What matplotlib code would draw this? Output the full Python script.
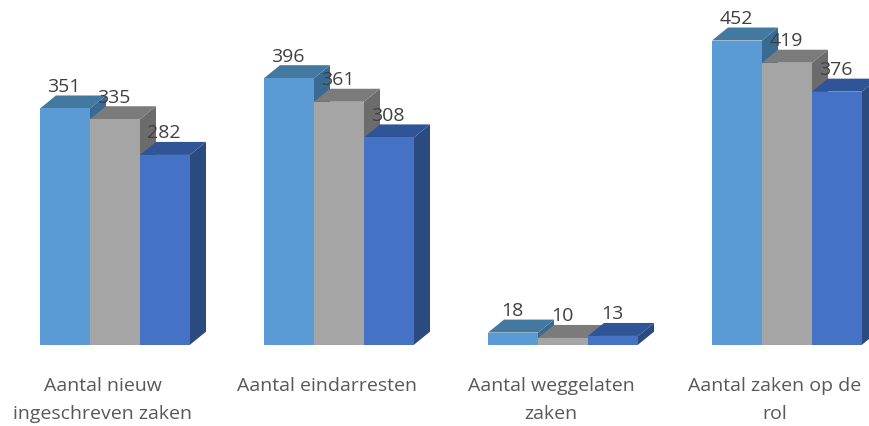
import matplotlib
matplotlib.use('Agg')
import matplotlib.pyplot as plt
from matplotlib.patches import Polygon

categories = ["Aantal nieuw\ningeschreven zaken", "Aantal eindarresten",
              "Aantal weggelaten\nzaken", "Aantal zaken op de\nrol"]
series_a = [351, 396, 18, 452]
series_b = [335, 361, 10, 419]
series_c = [282, 308, 13, 376]

front_colors = ["#5B9BD5", "#A5A5A5", "#4472C4"]
top_colors = ["#44799F", "#7B7B7B", "#2F5597"]
side_colors = ["#386A94", "#6C6C6C", "#2B4A80"]

W, H = 870, 427
px_x = 224.0       # pixels per group
px_y = 0.673       # pixels per value unit
x0 = 115.0         # pixel of first group centre
base = 345.7       # pixel of baseline

bar_w = 50 / px_x
dx = 16 / px_x
dy = 13 / px_y

# the category labels sit a little left of their groups in the original
label_shift = -12

plt.rcParams['font.family'] = ['Open Sans', 'DejaVu Sans']

fig = plt.figure(figsize=(W / 100, H / 100), dpi=100)
ax = fig.add_axes([0, 0, 1, 1])
ax.set_xlim(-x0 / px_x, (W - x0) / px_x)
ax.set_ylim(-(H - base) / px_y, base / px_y)
ax.axis('off')

all_series = [series_a, series_b, series_c]
for g in range(len(categories)):
    for s, values in enumerate(all_series):
        v = values[g]
        l = g + (s - 1.5) * bar_w
        r = l + bar_w
        side = [(r, 0), (r + dx, dy), (r + dx, v + dy), (r, v)]
        top = [(l, v), (l + dx, v + dy), (r + dx, v + dy), (r, v)]
        front = [(l, 0), (r, 0), (r, v), (l, v)]
        ax.add_patch(Polygon(side, closed=True, fc=side_colors[s], ec='none'))
        ax.add_patch(Polygon(top, closed=True, fc=top_colors[s], ec='none'))
        ax.add_patch(Polygon(front, closed=True, fc=front_colors[s], ec='none'))

for g in range(len(categories)):
    for s, values in enumerate(all_series):
        v = values[g]
        xc = g + (s - 1) * bar_w
        ax.annotate(str(v), (xc, v), xytext=(-1, 22.5), textcoords='offset pixels',
                    ha='center', va='center', fontsize=14, color='#404040', zorder=10)
    ax.annotate(categories[g], (g, 0), xytext=(label_shift, -31), textcoords='offset pixels',
                ha='center', va='top', fontsize=14, color='#595959',
                linespacing=1.72, zorder=10)

fig.savefig('out.png', dpi=100)
